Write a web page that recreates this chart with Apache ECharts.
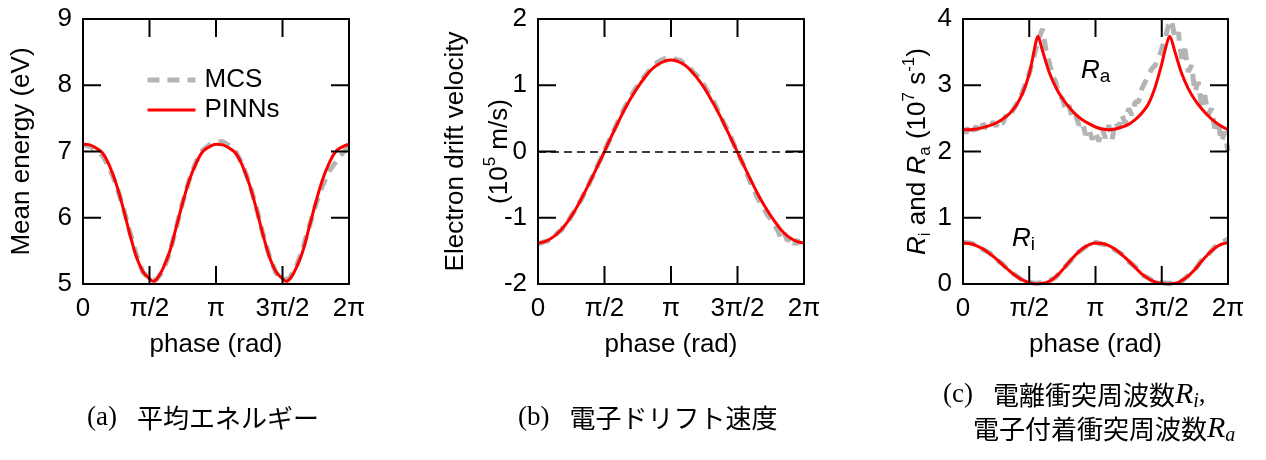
<!DOCTYPE html>
<html><head><meta charset="utf-8">
<script src="https://cdn.jsdelivr.net/npm/echarts@6/dist/echarts.min.js"></script>
<style>html,body{margin:0;padding:0;background:#fff}#c{width:1266px;height:460px}</style>
</head><body><div id="c"></div>
<script>
// ---- data (phase in units of π) ----
const xTickLabels = ['0', 'π/2', 'π', '3π/2', '2π'];
const xTickValues = [0, 0.5, 1, 1.5, 2];
const yTicksA = [5, 6, 7, 8, 9];
const yTicksB = [-2, -1, 0, 1, 2];
const yTicksC = [0, 1, 2, 3, 4];
const phase41 = [0,0.05,0.1,0.15,0.2,0.25,0.3,0.35,0.4,0.45,0.5,0.55,0.6,0.65,0.7,0.75,0.8,0.85,0.9,0.95,1,1.05,1.1,1.15,1.2,1.25,1.3,1.35,1.4,1.45,1.5,1.55,1.6,1.65,1.7,1.75,1.8,1.85,1.9,1.95,2];
const phase81 = [0,0.025,0.05,0.075,0.1,0.125,0.15,0.175,0.2,0.225,0.25,0.275,0.3,0.325,0.35,0.375,0.4,0.425,0.45,0.475,0.5,0.525,0.55,0.575,0.6,0.625,0.65,0.675,0.7,0.725,0.75,0.775,0.8,0.825,0.85,0.875,0.9,0.925,0.95,0.975,1,1.025,1.05,1.075,1.1,1.125,1.15,1.175,1.2,1.225,1.25,1.275,1.3,1.325,1.35,1.375,1.4,1.425,1.45,1.475,1.5,1.525,1.55,1.575,1.6,1.625,1.65,1.675,1.7,1.725,1.75,1.775,1.8,1.825,1.85,1.875,1.9,1.925,1.95,1.975,2];

// (a) mean energy (eV)
const energyMCS  = [7.10,7.08,7.02,6.93,6.74,6.50,6.17,5.80,5.45,5.18,5.07,5.06,5.19,5.46,5.84,6.24,6.58,6.84,7.02,7.10,7.14,7.15,7.09,6.99,6.80,6.53,6.18,5.78,5.43,5.17,5.06,5.08,5.24,5.52,5.86,6.20,6.48,6.70,6.84,6.97,7.08];
const energyPhase = [0,0.05,0.1,0.15,0.2,0.25,0.3,0.35,0.4,0.45,0.5,0.53,0.56,0.6,0.65,0.7,0.75,0.8,0.85,0.9,0.95,1,1.05,1.1,1.15,1.2,1.25,1.3,1.35,1.4,1.45,1.5,1.53,1.56,1.6,1.65,1.7,1.75,1.8,1.85,1.9,1.95,2];
const energyPINN = [7.11,7.10,7.05,6.97,6.78,6.51,6.16,5.77,5.42,5.19,5.08,5.04,5.09,5.23,5.48,5.85,6.23,6.57,6.82,7.00,7.07,7.11,7.10,7.05,6.97,6.78,6.51,6.16,5.77,5.42,5.19,5.08,5.04,5.09,5.23,5.48,5.85,6.23,6.57,6.82,7.00,7.07,7.11];

// (b) electron drift velocity (1e5 m/s)
const driftMCS = [-1.39,-1.38,-1.36,-1.35,-1.30,-1.28,-1.22,-1.19,-1.11,-1.06,-0.97,-0.90,-0.80,-0.73,-0.62,-0.53,-0.42,-0.32,-0.20,-0.10,0.01,0.12,0.23,0.34,0.45,0.55,0.66,0.74,0.84,0.92,1.00,1.07,1.13,1.19,1.26,1.30,1.35,1.38,1.40,1.41,1.42,1.40,1.38,1.37,1.32,1.30,1.24,1.18,1.14,1.06,1.00,0.91,0.83,0.74,0.63,0.53,0.42,0.33,0.22,0.10,0.00,-0.12,-0.22,-0.36,-0.48,-0.58,-0.70,-0.79,-0.86,-0.96,-1.02,-1.10,-1.18,-1.30,-1.22,-1.35,-1.30,-1.40,-1.33,-1.45,-1.40];
const driftPINN = [-1.38,-1.36,-1.31,-1.23,-1.12,-0.98,-0.81,-0.62,-0.42,-0.21,0.00,0.22,0.43,0.63,0.81,0.97,1.11,1.23,1.31,1.36,1.38,1.36,1.31,1.22,1.10,0.96,0.79,0.61,0.41,0.20,-0.01,-0.22,-0.43,-0.63,-0.81,-0.97,-1.11,-1.23,-1.31,-1.36,-1.38];

// (c) collision frequencies (1e7 1/s)
const raMCS = [2.35,2.28,2.40,2.31,2.38,2.27,2.42,2.36,2.33,2.45,2.38,2.47,2.42,2.55,2.50,2.62,2.70,2.78,2.90,3.05,3.18,3.35,3.55,3.72,3.85,3.55,3.35,3.15,3.05,2.85,2.80,2.62,2.70,2.50,2.55,2.40,2.45,2.25,2.35,2.18,2.30,2.15,2.35,2.20,2.40,2.18,2.45,2.35,2.55,2.42,2.65,2.55,2.75,2.75,2.95,3.05,3.15,3.25,3.30,3.40,3.55,3.70,3.90,3.98,3.70,3.80,3.40,3.55,3.20,3.30,2.90,3.05,2.70,2.85,2.55,2.65,2.35,2.45,2.15,2.30,2.00];
const raPhase = [0,0.05,0.1,0.15,0.2,0.25,0.3,0.35,0.4,0.45,0.5,0.525,0.55,0.565,0.6,0.65,0.7,0.75,0.8,0.85,0.9,0.95,1,1.05,1.1,1.15,1.2,1.25,1.3,1.35,1.4,1.45,1.5,1.525,1.56,1.6,1.65,1.7,1.75,1.8,1.85,1.9,1.95,2];
const raPINN = [2.33,2.33,2.34,2.36,2.39,2.43,2.49,2.57,2.69,2.88,3.17,3.40,3.65,3.74,3.52,3.20,2.97,2.80,2.67,2.56,2.48,2.42,2.37,2.34,2.33,2.34,2.37,2.41,2.48,2.58,2.72,2.97,3.32,3.53,3.74,3.50,3.18,2.95,2.78,2.65,2.54,2.45,2.38,2.33];
const riMCS  = [0.63,0.62,0.59,0.52,0.47,0.37,0.30,0.19,0.13,0.05,0.03,0.01,0.02,0.05,0.10,0.22,0.32,0.45,0.52,0.60,0.63,0.60,0.59,0.51,0.45,0.34,0.26,0.14,0.09,0.02,0.02,0.01,0.02,0.04,0.13,0.21,0.36,0.44,0.56,0.62,0.68];
const riPINN = [0.62,0.61,0.58,0.53,0.46,0.38,0.29,0.20,0.12,0.06,0.02,0.00,0.01,0.04,0.11,0.21,0.33,0.44,0.53,0.59,0.62,0.61,0.58,0.52,0.44,0.35,0.25,0.15,0.08,0.03,0.01,0.00,0.01,0.05,0.12,0.22,0.34,0.45,0.54,0.60,0.62];

// ---- chart ----
const F = '"Liberation Sans", Arial, sans-serif';
const J = '"Noto Sans CJK JP", sans-serif';
const S = '"Liberation Serif", serif';
const pairs = (xs, ys) => xs.map((x, i) => [x, ys[i]]);
const black = '#000';
const lineAx = () => ({ show: true, onZero: false, lineStyle: { color: black, width: 2 } });
const nameStyle = () => ({ fontSize: 26, color: black, fontFamily: F });

const grids = [
  { left: 83, top: 19, width: 266, height: 265, show: false, backgroundColor: 'transparent', borderWidth: 0 },
  { left: 538, top: 19, width: 266, height: 265, show: false, backgroundColor: 'transparent', borderWidth: 0 },
  { left: 963, top: 19, width: 265, height: 265, show: false, backgroundColor: 'transparent', borderWidth: 0 }
];
const yTickSets = [yTicksA, yTicksB, yTicksC];
const TICK_PX = 18;

const xAxis = [], yAxis = [];
grids.forEach((g, gi) => {
  const yt = yTickSets[gi];
  const xBase = { type: 'value', gridIndex: gi, min: 0, max: 2, interval: 0.5, z: 10, splitLine: { show: false }, axisTick: { show: false } };
  const yBase = { type: 'value', gridIndex: gi, min: yt[0], max: yt[yt.length - 1], interval: 1, z: 10, splitLine: { show: false }, axisTick: { show: false } };
  xAxis.push(Object.assign({}, xBase, {
    position: 'bottom', axisLine: lineAx(),
    axisLabel: { formatter: v => xTickLabels[Math.round(v / 0.5)], fontSize: 26, color: black, margin: 12, fontFamily: F },
    name: 'phase (rad)', nameLocation: 'middle', nameGap: 48, nameMoveOverlap: false, nameTextStyle: nameStyle()
  }));
  xAxis.push(Object.assign({}, xBase, { position: 'top', axisLine: lineAx(), axisLabel: { show: false } }));
  yAxis.push(Object.assign({}, yBase, {
    position: 'left', axisLine: lineAx(), nameMoveOverlap: false,
    axisLabel: { fontSize: 26, color: black, margin: 11, fontFamily: F }
  }));
  yAxis.push(Object.assign({}, yBase, { position: 'right', axisLine: lineAx(), axisLabel: { show: false } }));
});

yAxis[0].name = 'Mean energy (eV)';
yAxis[0].nameLocation = 'middle'; yAxis[0].nameRotate = 90; yAxis[0].nameGap = 48;
yAxis[0].nameTextStyle = nameStyle();

yAxis[2].name = '{n|Electron drift velocity}\n{n|(10}{sup|5}{n| m/s)}';
yAxis[2].nameLocation = 'middle'; yAxis[2].nameRotate = 90; yAxis[2].nameGap = 16;
yAxis[2].nameTextStyle = { color: black, fontFamily: F, fontSize: 26, align: 'center',
  rich: { n: { fontSize: 26, lineHeight: 44, fontFamily: F, color: black },
          sup: { fontSize: 17, lineHeight: 44, fontFamily: F, color: black, padding: [0, 0, 20, 0] } } };

yAxis[4].name = '{it|R}{sub|i}{n| and }{it|R}{sub|a}{n| (10}{sup|7}{n| s}{sup|-1}{n|)}';
yAxis[4].nameLocation = 'middle'; yAxis[4].nameRotate = 90; yAxis[4].nameGap = 30;
yAxis[4].nameTextStyle = { color: black, fontFamily: F, fontSize: 26,
  rich: { n: { fontSize: 26, fontFamily: F, color: black, lineHeight: 30 },
          it: { fontSize: 26, fontFamily: F, fontStyle: 'italic', color: black, lineHeight: 30 },
          sub: { fontSize: 17, fontFamily: F, color: black, padding: [14, 0, 0, 0], lineHeight: 30 },
          sup: { fontSize: 17, fontFamily: F, color: black, padding: [0, 0, 18, 0], lineHeight: 30 } } };

const mcsStyle = () => ({ color: '#b4b4b4', width: 5, type: [12, 8] });
const pinnStyle = () => ({ color: '#ff0000', width: 3 });
function mcs(name, gi, data, extra) {
  return Object.assign({ name, type: 'line', xAxisIndex: gi * 2, yAxisIndex: gi * 2, data,
    showSymbol: false, symbol: 'none', lineStyle: mcsStyle(), itemStyle: { color: '#b4b4b4' }, z: 2 }, extra || {});
}
function pinn(name, gi, data, smooth) {
  return { name, type: 'line', xAxisIndex: gi * 2, yAxisIndex: gi * 2, data,
    showSymbol: false, symbol: 'none', smooth: smooth, lineStyle: pinnStyle(), itemStyle: { color: '#ff0000' }, z: 3 };
}

// inward tick marks: [x, y, dirX, dirY] anchored on the frame, placed by the axes' scales
function tickData(gi) {
  const yt = yTickSets[gi];
  const y0 = yt[0], y1 = yt[yt.length - 1];
  const out = [];
  xTickValues.slice(1, -1).forEach(t => { out.push([t, y0, 0, -1]); out.push([t, y1, 0, 1]); });
  yt.slice(1, -1).forEach(v => { out.push([0, v, 1, 0]); out.push([2, v, -1, 0]); });
  return out;
}
function tickSeries(gi) {
  return {
    name: 'ticks-' + gi, type: 'custom', xAxisIndex: gi * 2, yAxisIndex: gi * 2,
    data: tickData(gi), encode: { x: 0, y: 1 }, silent: true, clip: false, z: 10,
    renderItem: function (params, api) {
      const p = api.coord([api.value(0), api.value(1)]);
      return { type: 'line', shape: { x1: p[0], y1: p[1], x2: p[0] + api.value(2) * TICK_PX, y2: p[1] + api.value(3) * TICK_PX },
        style: { stroke: black, lineWidth: 2 } };
    }
  };
}

const series = [
  mcs('MCS', 0, pairs(phase41, energyMCS)),
  pinn('PINNs', 0, pairs(energyPhase, energyPINN), 0.4),
  mcs('MCS (b)', 1, pairs(phase81, driftMCS), {
    markLine: { silent: true, symbol: 'none', label: { show: false },
      lineStyle: { type: [8, 5], color: black, width: 1.5 }, data: [{ yAxis: 0 }] } }),
  pinn('PINNs (b)', 1, pairs(phase41, driftPINN), 0.5),
  mcs('MCS Ra', 2, pairs(phase81, raMCS)),
  mcs('MCS Ri', 2, pairs(phase41, riMCS)),
  pinn('PINNs Ra', 2, pairs(raPhase, raPINN), 0.3),
  pinn('PINNs Ri', 2, pairs(phase41, riPINN), 0.5),
  tickSeries(0), tickSeries(1), tickSeries(2)
];

const capRich = {
  s: { fontFamily: S, fontSize: 27, color: black },
  j: { fontFamily: J, fontSize: 26, color: black },
  gap: { fontFamily: J, fontSize: 26, width: 20 },
  r: { fontFamily: S, fontSize: 30, fontStyle: 'italic', color: black },
  rs: { fontFamily: S, fontSize: 20, fontStyle: 'italic', color: black, padding: [14, 0, 0, 0] }
};

const graphic = [
  { type: 'text', x: 87, y: 418, style: { text: '{s|(a)}{gap|}{j|平均エネルギー}', rich: capRich, verticalAlign: 'middle', align: 'left' } },
  { type: 'text', x: 518, y: 418, style: { text: '{s|(b)}{gap|}{j|電子ドリフト速度}', rich: capRich, verticalAlign: 'middle', align: 'left' } },
  { type: 'text', x: 943, y: 395, style: { text: '{s|(c)}{gap|}{j|電離衝突周波数}{r|R}{rs|i}{s|,}', rich: capRich, verticalAlign: 'middle', align: 'left' } },
  { type: 'text', x: 973, y: 429, style: { text: '{j|電子付着衝突周波数}{r|R}{rs|a}', rich: capRich, verticalAlign: 'middle', align: 'left' } },
  { type: 'text', x: 1081, y: 71, style: { text: '{it|R}{sub|a}', verticalAlign: 'middle', align: 'left',
      rich: { it: { fontFamily: F, fontSize: 26, fontStyle: 'italic', color: black },
              sub: { fontFamily: F, fontSize: 19, color: black, padding: [12, 0, 0, 0] } } } },
  { type: 'text', x: 1012, y: 239, style: { text: '{it|R}{sub|i}', verticalAlign: 'middle', align: 'left',
      rich: { it: { fontFamily: F, fontSize: 26, fontStyle: 'italic', color: black },
              sub: { fontFamily: F, fontSize: 19, color: black, padding: [12, 0, 0, 0] } } } }
];

const option = {
  animation: false,
  backgroundColor: '#fff',
  textStyle: { fontFamily: F },
  grid: grids,
  xAxis, yAxis, series, graphic,
  legend: {
    data: [
      { name: 'MCS', lineStyle: { width: 5, type: [12, 8], color: '#b4b4b4' } },
      { name: 'PINNs', lineStyle: { width: 3, color: '#ff0000' } }
    ],
    orient: 'vertical', left: 140, top: 62,
    itemWidth: 48, itemHeight: 14, itemGap: 4,
    itemStyle: { opacity: 0 },
    textStyle: { fontSize: 26, color: black, fontFamily: F, padding: [0, 0, 0, 4] }
  }
};

const chart = echarts.init(document.getElementById('c'));
chart.setOption(option);
</script>
</body></html>
